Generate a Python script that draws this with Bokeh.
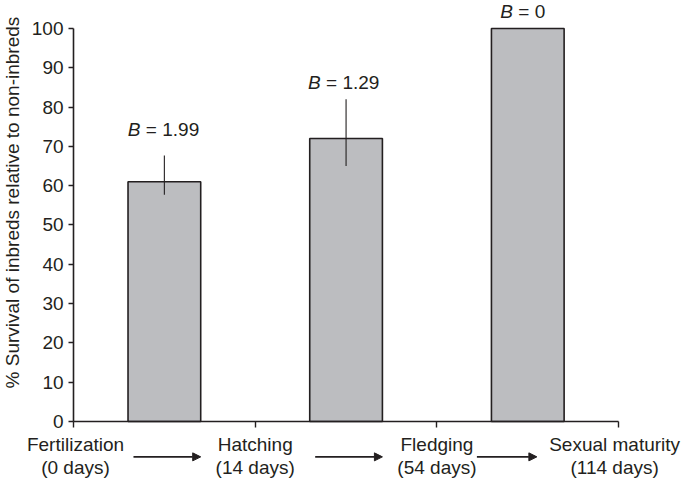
import math
from bokeh.plotting import figure
from bokeh.models import Range1d, LinearAxis, FixedTicker, Arrow, NormalHead
from bokeh.core.properties import value
from bokeh.embed import file_html
from bokeh.resources import INLINE

# ---- data ----
stage_names = ["Fertilization", "Hatching", "Fledging", "Sexual maturity"]
stage_days = ["(0 days)", "(14 days)", "(54 days)", "(114 days)"]
survival = [61, 72, 100]
err_low = [57.7, 65.0]
err_high = [67.7, 82.0]
b_values = ["1.99", "1.29", "0"]
b_label_y = [74.2, 86.3, 104.4]
y_ticks = [0, 10, 20, 30, 40, 50, 60, 70, 80, 90, 100]
y_title = "% Survival of inbreds relative to non-inbreds"

INK = "#231f20"
FONT = value("Liberation Sans")
FILL = "#bcbdc0"
FS = "19px"

p = figure(width=685, height=479, output_backend="svg", toolbar_location=None,
           x_range=Range1d(-0.4018, 3.368), y_range=Range1d(-14.76, 107.12),
           x_axis_type=None, y_axis_type=None,
           min_border=0)
p.outline_line_color = None
p.xgrid.visible = False
p.ygrid.visible = False

# y axis at x = 0
ya = LinearAxis(ticker=FixedTicker(ticks=y_ticks), bounds=(0, 100), fixed_location=0)
ya.axis_line_color = INK
ya.axis_line_width = 1.6
ya.major_tick_line_color = INK
ya.major_tick_line_width = 1.4
ya.major_tick_in = 0
ya.major_tick_out = 5
ya.minor_tick_line_color = None
ya.major_label_text_font = "Liberation Sans"
ya.major_label_text_font_size = FS
ya.major_label_text_color = INK
ya.major_label_standoff = 5
p.add_layout(ya, "left")

# x axis at y = 0 (stage labels drawn as text below)
xa = LinearAxis(ticker=FixedTicker(ticks=[0, 1, 2, 3]), bounds=(0, 3), fixed_location=0)
xa.axis_line_color = INK
xa.axis_line_width = 1.6
xa.major_tick_line_color = INK
xa.major_tick_line_width = 1.4
xa.major_tick_in = 0
xa.major_tick_out = 6
xa.minor_tick_line_color = None
xa.major_label_overrides = {0: "", 1: "", 2: "", 3: ""}
p.add_layout(xa, "below")

# bars
centers = [i + 0.5 for i in range(len(survival))]
p.vbar(x=centers, top=survival, bottom=0, width=0.4, fill_color=FILL,
       line_color=INK, line_width=1.6)

# error bars (first two bars)
ex = centers[:len(err_low)]
p.segment(x0=ex, y0=err_low, x1=ex, y1=err_high, line_color=INK, line_width=1.1)

# B labels above bars
b_start = [-36.5, -38, -27.5]
p.text(x=centers, y=b_label_y, text=["B"] * 3, x_offset=b_start,
       text_align="left", text_baseline="middle", text_font=FONT,
       text_font_style="italic", text_font_size=FS, text_color=INK)
p.text(x=centers, y=b_label_y, text=["= " + b for b in b_values],
       x_offset=[s + 18 for s in b_start],
       text_align="left", text_baseline="middle", text_font=FONT,
       text_font_size=FS, text_color=INK)

# x stage labels
stage_x = list(range(len(stage_names)))
p.text(x=stage_x, y=[-5.9] * 4, text=stage_names, x_offset=[2, 0, 0, -4],
       text_align="center", text_baseline="middle", text_font=FONT,
       text_font_size=FS, text_color=INK)
p.text(x=stage_x, y=[-11.6] * 4, text=stage_days, x_offset=[2, 0, 0, -4],
       text_align="center", text_baseline="middle", text_font=FONT,
       text_font_size=FS, text_color=INK)

# arrows between stages
arrow_x0 = [0.33, 1.33, 2.22]
arrow_x1 = [0.70, 1.70, 2.55]
for a0, a1 in zip(arrow_x0, arrow_x1):
    p.add_layout(Arrow(x_start=a0, y_start=-9.0, x_end=a1, y_end=-9.0,
                       line_color=INK, line_width=1.6,
                       end=NormalHead(size=8, fill_color=INK, line_color=INK, line_width=1)))

# y axis title
p.text(x=[-0.336], y=[55.7], text=[y_title], angle=math.pi / 2,
       text_align="center", text_baseline="middle", text_font=FONT,
       text_font_size=FS, text_color=INK)

open("out.html", "w").write(file_html(p, INLINE))
